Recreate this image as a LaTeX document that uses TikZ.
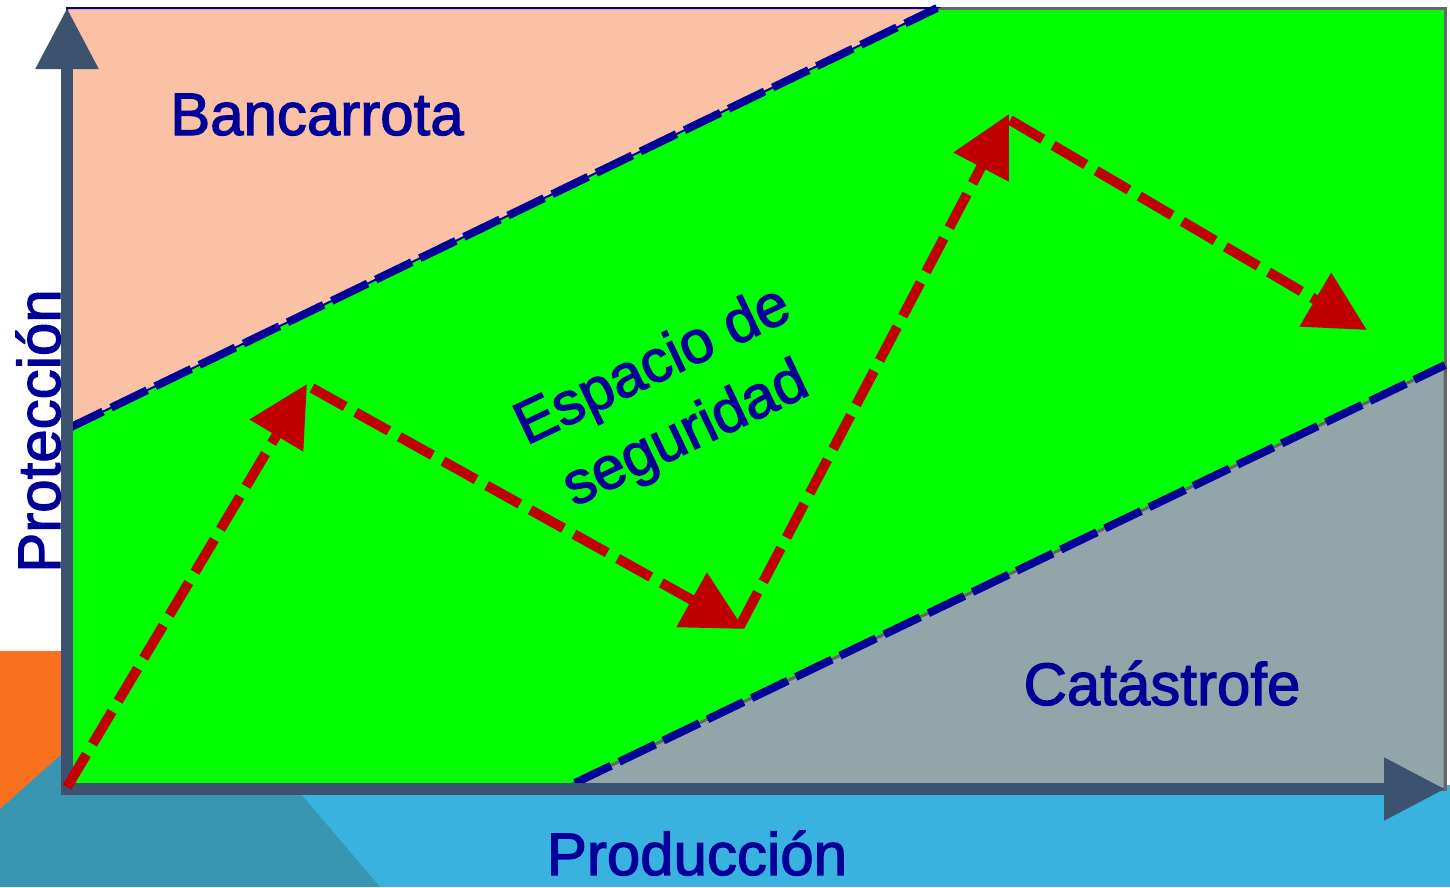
\documentclass[tikz,border=0pt]{standalone}
\usepackage{fontspec}
\setmainfont{Liberation Sans}
\newfontfamily\labelfont[FakeBold=2]{Liberation Sans}
\usetikzlibrary{arrows.meta}
\definecolor{peach}{RGB}{251,193,165}
\definecolor{zonegreen}{RGB}{0,255,0}
\definecolor{zonegray}{RGB}{146,166,170}
\definecolor{axiscol}{RGB}{60,83,111}
\definecolor{arrowred}{RGB}{192,0,0}
\definecolor{textblue}{RGB}{0,0,153}
\definecolor{bgorange}{RGB}{249,112,30}
\definecolor{bglight}{RGB}{58,178,224}
\definecolor{bgteal}{RGB}{57,150,178}
\definecolor{bordergray}{RGB}{102,102,102}
\begin{document}
\begin{tikzpicture}[x=1pt,y=-1pt,
  axisline/.style={draw=axiscol, line width=12pt, -{Triangle[length=61pt,width=60pt]}},
  bluedash/.style={draw=textblue, line width=8pt, dash pattern=on 40pt off 9pt},
  reddash/.style={draw=arrowred, line width=10pt, dash pattern=on 38pt off 12pt, -{Triangle[length=60pt,width=60pt]}},
  label/.style={text=textblue, font=\labelfont\fontsize{60}{76}\selectfont, inner sep=0pt}
]
\useasboundingbox (0,0) rectangle (1450,887);
% background decoration
\fill[white] (0,0) rectangle (1450,887);
\fill[bglight] (0,785) rectangle (1450,887);
\fill[bgorange] (0,651) rectangle (70,887);
\fill[bgteal] (0,809) -- (100,720) -- (238,720) -- (380,887) -- (0,887) -- cycle;
% zones
\filldraw[fill=zonegreen, draw=bordergray, line width=3pt] (67,8) rectangle (1445,789);
\coordinate (u1) at (67,429);
\coordinate (u2) at (937,8);
\coordinate (l1) at (575,783);
\coordinate (l2) at (1445,365);
\filldraw[fill=peach, draw=textblue, line width=2pt] (67,8) -- (u2) -- (u1) -- cycle;
\filldraw[fill=zonegray, draw=bordergray, line width=3pt] (562,789) -- (l2) -- (1445,789) -- cycle;
\draw[bluedash] (u1) -- (u2);
\draw[bluedash] (l1) -- (l2);
% axes
\coordinate (o) at (67,795);
\coordinate (ytop) at (67,8);
\coordinate (xo) at (61,789);
\coordinate (xend) at (1445,789);
\draw[axisline] (o) -- (ytop);
\draw[axisline] (xo) -- (xend);
% path of arrows
\coordinate (p0) at (67,787);
\coordinate (p1) at (307,384);
\coordinate (p1s) at (312,388);
\coordinate (p2) at (744,629);
\coordinate (p2s) at (740,626);
\coordinate (p3) at (1009,114);
\coordinate (p3s) at (1010,120);
\coordinate (p4) at (1367,330);
\draw[reddash] (p0) -- (p1);
\draw[reddash] (p1s) -- (p2);
\draw[reddash] (p2s) -- (p3);
\draw[reddash] (p3s) -- (p4);
% labels
\node[label, anchor=base west] (bank) at (170,135) {Bancarrota};
\node[label, anchor=base] (cat) at (1162,705) {Catástrofe};
\node[label, anchor=base] (prod) at (697,875) {Producción};
\node[label, anchor=base, rotate=90] (prot) at (60,431) {Protección};
\node[label, align=center, rotate=25.5] (esp) at (670,402) {Espacio de\\seguridad};
\end{tikzpicture}
\end{document}
